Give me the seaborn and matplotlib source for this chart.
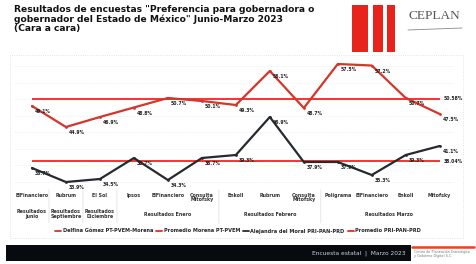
import numpy as np
import pandas as pd
import matplotlib
matplotlib.use("Agg")
import matplotlib.pyplot as plt
from matplotlib.patches import Rectangle
from matplotlib.lines import Line2D
import seaborn as sns

# ---------------- data ----------------
categories = ["ElFinanciero", "Rubrum", "El Sol", "Ipsos", "ElFinanciero",
              "Consulta\nMitofsky", "Enkoll", "Rubrum", "Consulta\nMitofsky",
              "Poligrama", "ElFinanciero", "Enkoll", "Mitofsky"]
groups = ["Resultados\nJunio", "Resultados\nSeptiembre", "Resultados\nDiciembre",
          "Resultados Enero", "Resultados Febrero", "Resultados Marzo"]
group_spans = [(0, 0), (1, 1), (2, 2), (3, 5), (6, 8), (9, 12)]
morena = [49.1, 44.9, 46.9, 48.8, 50.7, 50.1, 49.3, 56.1, 48.7, 57.5, 57.2, 50.7, 47.5]
pri_pan = [36.7, 33.9, 34.5, 38.7, 34.3, 38.7, 39.3, 46.9, 37.9, 37.9, 35.3, 39.3, 41.1]
series_names = ["Delfina Gómez PT-PVEM-Morena", "Alejandra del Moral PRI-PAN-PRD"]
mean_names = ["Promedio Morena PT-PVEM", "Promedio PRI-PAN-PRD"]
title = ("Resultados de encuestas \"Preferencia para gobernadora o\n"
         "gobernador del Estado de México\" Junio-Marzo 2023\n(Cara a cara)")
footer = "Encuesta estatal  |  Marzo 2023"

RED = "#d3362a"
MEAN_RED = "#ff1f1f"
DARK = "#262a30"

sns.set_theme(style="white")
plt.rcParams["font.family"] = ["DejaVu Sans"]

W, H = 476, 264
fig = plt.figure(figsize=(W / 100, H / 100), dpi=100)
fig.patch.set_facecolor("white")

def fx(px):
    return px / W

def fy(py):
    return 1 - py / H

# chart frame
fig.patches.append(Rectangle((fx(10), fy(238)), fx(463) - fx(10), fy(55) - fy(238),
                             transform=fig.transFigure, fill=False,
                             edgecolor="#dcdcdc", lw=0.6, ls=":"))

ax = fig.add_axes([fx(15), fy(187), fx(455) - fx(15), fy(56) - fy(187)])
ax.set_facecolor("none")

x = np.arange(len(categories))
df = pd.DataFrame({
    "x": np.concatenate([x, x]),
    "valor": morena + pri_pan,
    "serie": [series_names[0]] * len(x) + [series_names[1]] * len(x),
})
sns.lineplot(data=df, x="x", y="valor", hue="serie",
             palette={series_names[0]: RED, series_names[1]: DARK},
             lw=1.6, ax=ax, legend=False, marker="o", markersize=2,
             markeredgewidth=0)

means = [np.mean(morena), np.mean(pri_pan)]
for m in means:
    ax.hlines(m, 0, len(x) - 1, color=MEAN_RED, lw=1.3, zorder=1)

for vals in (morena, pri_pan):
    for xi, v in zip(x, vals):
        ax.annotate(f"{v:.1f}%", (xi, v), xytext=(2, -4), textcoords="offset points",
                    fontsize=3.3, fontweight="bold", color="#222222", va="center")
for m in means:
    ax.annotate(f"{m:.2f}%", (len(x) - 1, m), xytext=(3, 0), textcoords="offset points",
                fontsize=3.3, fontweight="bold", color="#222222", va="center")

ax.set_xlim(-0.5, 12.45)
ax.set_ylim(32.9, 59.1)
ax.set_yticks(np.arange(34.0, 59.0, 3.3))
ax.yaxis.grid(True, color="#e4e4e4", lw=0.5, ls=":")
ax.set_yticklabels([])
ax.tick_params(axis="y", length=0)
ax.set_xticks(x)
ax.set_xticklabels(categories, fontsize=3.4, fontweight="bold", color="#333333",
                   linespacing=0.95)
ax.tick_params(axis="x", length=0, pad=4)
ax.set_xlabel("")
ax.set_ylabel("")
for s in ax.spines.values():
    s.set_visible(False)

# group labels and separators
for g, (a, b) in zip(groups, group_spans):
    ax.annotate(g, ((a + b) / 2, 0), xycoords=("data", "axes fraction"),
                xytext=(0, -19.5), textcoords="offset points", ha="center", va="center",
                fontsize=3.4, fontweight="bold", color="#333333", linespacing=0.95,
                annotation_clip=False)
for (a, b) in group_spans[:-1]:
    ax.annotate("", xy=(b + 0.5, 0), xycoords=("data", "axes fraction"),
                xytext=(b + 0.5, -28), textcoords=("data", "offset points"),
                arrowprops=dict(arrowstyle="-", color="#dddddd", lw=0.5),
                annotation_clip=False)

# legend
handles = [Line2D([], [], color=RED, lw=1.3),
           Line2D([], [], color=MEAN_RED, lw=1.3),
           Line2D([], [], color=DARK, lw=1.3),
           Line2D([], [], color=MEAN_RED, lw=1.3)]
labels = [series_names[0], mean_names[0], series_names[1], mean_names[1]]
fig.legend(handles, labels, loc="center", bbox_to_anchor=(fx(238), fy(231)),
           ncol=4, frameon=False, handlelength=1.2,
           handletextpad=0.3, columnspacing=0.6,
           prop={"weight": "bold", "size": 3.6})

# header
fig.text(fx(14), fy(5), title, fontsize=6.6, fontweight="heavy", color="#111111",
         va="top", ha="left", linespacing=1.0)
for x0, x1 in [(352, 368), (373, 383), (387, 395)]:
    fig.patches.append(Rectangle((fx(x0), fy(52)), fx(x1) - fx(x0), fy(5) - fy(52),
                                 transform=fig.transFigure, color="#e8231b", lw=0))
fig.text(fx(434), fy(16), "CEPLAN", fontsize=9.5, family="Liberation Serif",
         color="#555555", ha="center", va="center")
fig.lines.append(Line2D([fx(408), fx(462)], [fy(30), fy(28)], transform=fig.transFigure,
                        color="#888888", lw=0.6))

# footer
fig.patches.append(Rectangle((fx(6), fy(261)), fx(411) - fx(6), fy(245) - fy(261),
                             transform=fig.transFigure, color="#070b10", lw=0))
fig.text(fx(405), fy(253.5), footer, fontsize=4.2, color="#c8d4dc",
         ha="right", va="center")
fig.lines.append(Line2D([fx(412), fx(474)], [fy(247), fy(247)], transform=fig.transFigure,
                        color="#f0401c", lw=1.8))
fig.text(fx(414), fy(254), "Centro de Planeación Estratégica\ny Gobierno Digital S.C.",
         fontsize=2.4, color="#777777", ha="left", va="center", linespacing=1.0)

fig.savefig("out.png", dpi=100)
